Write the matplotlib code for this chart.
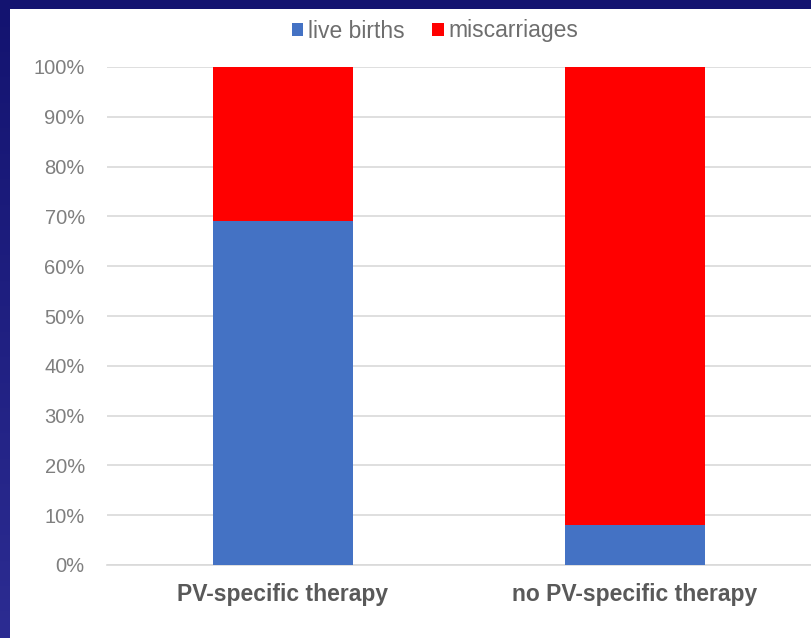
import numpy as np
import matplotlib
matplotlib.use("Agg")
import matplotlib.pyplot as plt
from matplotlib.patches import Rectangle
from matplotlib.colors import LinearSegmentedColormap

categories = ["PV-specific therapy", "no PV-specific therapy"]
live_births = [0.69, 0.08]
miscarriages = [0.31, 0.92]
y_ticks = [0, 0.1, 0.2, 0.3, 0.4, 0.5, 0.6, 0.7, 0.8, 0.9, 1.0]
y_tick_labels = ["0%", "10%", "20%", "30%", "40%", "50%", "60%", "70%", "80%", "90%", "100%"]

plt.rcParams['font.family'] = ['Liberation Sans', 'DejaVu Sans']

W, H = 811, 638
fig = plt.figure(figsize=(W / 100, H / 100), dpi=100)
fig.patch.set_facecolor("#141470")

# left strip with gradient, dark at top to bluer at bottom
strip = fig.add_axes([0, 0, 10 / W, 1])
grad = np.linspace(0, 1, 256).reshape(-1, 1)
cmap = LinearSegmentedColormap.from_list("edge", ["#131370", "#2c2c92"])
strip.imshow(grad, aspect="auto", cmap=cmap, extent=[0, 1, 0, 1], origin="upper")
strip.axis("off")

# white panel
fig.patches.append(Rectangle((10 / W, 0), 1, (H - 9) / H, transform=fig.transFigure,
                             facecolor="white", edgecolor="none", zorder=-10))

ax = fig.add_axes([107 / W, (H - 565) / H, (W - 107) / W, (565 - 67) / H])
ax.set_facecolor("none")
x = np.arange(len(categories))
width = 0.4
ax.bar(x, live_births, width, color="#4472c4", label="live births", zorder=3)
ax.bar(x, miscarriages, width, bottom=live_births, color="#ff0000", label="miscarriages", zorder=3)

ax.set_xlim(-0.5, len(categories) - 0.5)
ax.set_ylim(0, 1.0)
ax.set_yticks(y_ticks)
ax.set_yticklabels(y_tick_labels)
ax.yaxis.grid(True, color="#d9d9d9", linewidth=1.2, zorder=0)
ax.set_axisbelow(True)
for s in ["top", "right", "left"]:
    ax.spines[s].set_visible(False)
ax.spines["bottom"].set_color("#d9d9d9")
ax.spines["bottom"].set_linewidth(1.2)
ax.tick_params(axis="y", length=0, pad=16, labelsize=14.5, labelcolor="#7f7f7f")
ax.tick_params(axis="x", length=0, pad=13, labelsize=16.5, labelcolor="#595959")
ax.set_xticks(x)
ax.set_xticklabels(categories, fontweight="bold")

leg = fig.legend(loc="center", bbox_to_anchor=(435 / W, 1 - 31 / H), ncol=2, frameon=False,
                 fontsize=16.5, handlelength=0.5, handleheight=0.5, handletextpad=0.2,
                 columnspacing=1.2)
for t in leg.get_texts():
    t.set_color("#6e6e6e")

fig.savefig("out.png", dpi=100, facecolor=fig.get_facecolor())
